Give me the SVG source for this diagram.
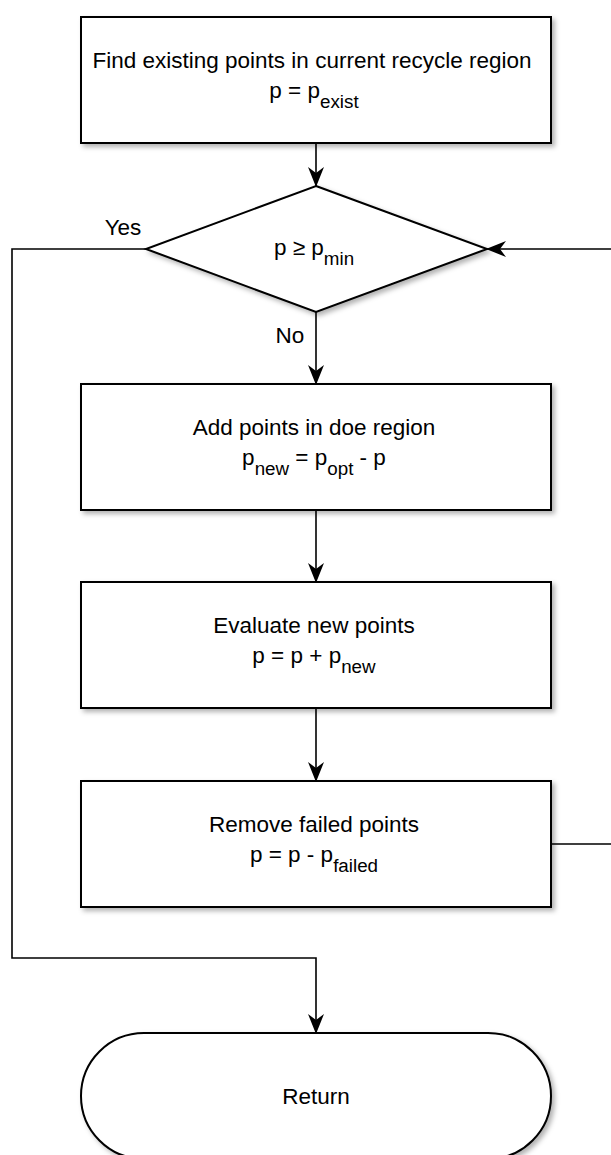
<svg xmlns="http://www.w3.org/2000/svg" width="611" height="1155" viewBox="0 0 611 1155">
  <defs>
    <filter id="shadow" x="-10%" y="-10%" width="130%" height="140%">
      <feDropShadow dx="3" dy="3" stdDeviation="2.5" flood-color="#000" flood-opacity="0.3"/>
    </filter>
    <marker id="arrow" viewBox="0 0 20 16" refX="19" refY="8" markerWidth="20" markerHeight="16" markerUnits="userSpaceOnUse" orient="auto">
      <path d="M0,0 L20,8 L0,16 L6,8 Z" fill="#000"/>
    </marker>
  </defs>
  <style>
    .shape { fill: #fff; stroke: #000; stroke-width: 2; filter: url(#shadow); }
    .label { font-family: "Liberation Sans", Arial, sans-serif; font-size: 22.5px; fill: #000; text-anchor: middle; }
    .sub { font-size: 18.8px; }
    .edge { fill: none; stroke: #000; stroke-width: 1.6; }
  </style>
  <rect width="611" height="1155" fill="#fff"/>

  <!-- connectors -->
  <g id="connectors">
    <path class="edge" d="M316,143 L316,186" marker-end="url(#arrow)"/>
    <path class="edge" d="M316,312 L316,384" marker-end="url(#arrow)"/>
    <path class="edge" d="M316,510 L316,582" marker-end="url(#arrow)"/>
    <path class="edge" d="M316,708 L316,781" marker-end="url(#arrow)"/>
    <path class="edge" d="M146,249 L12,249 L12,958 L316,958 L316,1033" marker-end="url(#arrow)"/>
    <path class="edge" d="M551,844 L640,844 L640,249 L487,249" marker-end="url(#arrow)"/>
    <text class="label" x="123" y="235">Yes</text>
    <text class="label" x="290" y="343">No</text>
  </g>

  <!-- find existing points -->
  <g id="find-existing">
    <rect class="shape" x="81" y="17" width="470" height="126"/>
    <text class="label" x="312" y="68">Find existing points in current recycle region</text>
    <text class="label" x="314" y="98">p = p<tspan class="sub" dy="10">exist</tspan></text>
  </g>

  <!-- decision -->
  <g id="check-min">
    <polygon class="shape" points="316,186 487,249 316,312 146,249"/>
    <text class="label" x="314" y="255">p ≥ p<tspan class="sub" dy="10">min</tspan></text>
  </g>

  <!-- add points -->
  <g id="add-points">
    <rect class="shape" x="81" y="384" width="470" height="126"/>
    <text class="label" x="314" y="435">Add points in doe region</text>
    <text class="label" x="314" y="465">p<tspan class="sub" dy="10">new</tspan><tspan dy="-10"> = p</tspan><tspan class="sub" dy="10">opt</tspan><tspan dy="-10"> - p</tspan></text>
  </g>

  <!-- evaluate -->
  <g id="evaluate">
    <rect class="shape" x="81" y="582" width="470" height="126"/>
    <text class="label" x="314" y="633">Evaluate new points</text>
    <text class="label" x="314" y="663">p = p + p<tspan class="sub" dy="10">new</tspan></text>
  </g>

  <!-- remove failed -->
  <g id="remove-failed">
    <rect class="shape" x="81" y="781" width="470" height="126"/>
    <text class="label" x="314" y="832">Remove failed points</text>
    <text class="label" x="314" y="862">p = p - p<tspan class="sub" dy="10">failed</tspan></text>
  </g>

  <!-- terminal -->
  <g id="return">
    <rect class="shape" x="81" y="1033" width="470" height="126" rx="63" ry="63"/>
    <text class="label" x="316" y="1104">Return</text>
  </g>
</svg>
